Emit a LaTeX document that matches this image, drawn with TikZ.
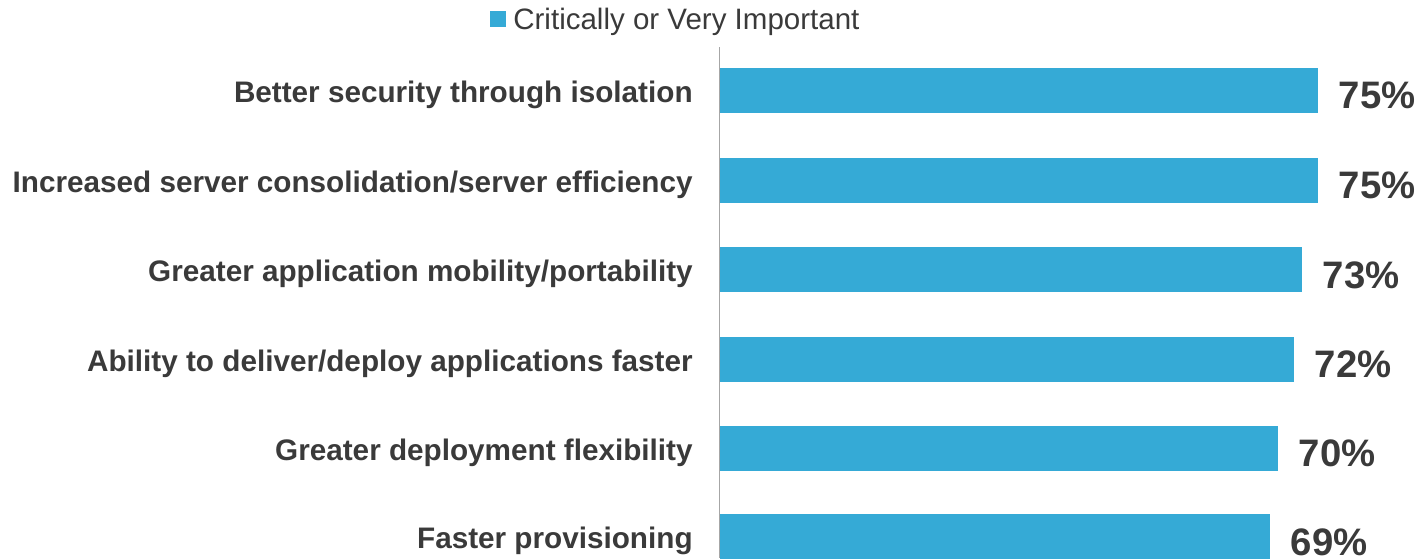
\documentclass[tikz,border=0pt]{standalone}
\usepackage{fontspec}
\setmainfont{Liberation Sans}
\definecolor{barblue}{RGB}{53,170,214}
\definecolor{txtgray}{RGB}{58,58,58}
\definecolor{axisgray}{RGB}{166,166,166}
\begin{document}
\begin{tikzpicture}[x=0.02cm, y=-0.02cm,
		bar/.style={fill=barblue, rectangle, inner sep=0pt, minimum height=0.9cm, anchor=west},
		cat/.style={anchor=base east, inner sep=0pt, text=txtgray, font=\fontsize{16.9}{20}\selectfont\bfseries},
		val/.style={anchor=base west, inner sep=0pt, text=txtgray, font=\fontsize{21.8}{26}\selectfont\bfseries}]
				\useasboundingbox (0,0) rectangle (1422,558);
				\node[fill=barblue, rectangle, inner sep=0pt, minimum size=0.32cm]
				(key) at (498,19) {};
				\node[anchor=base west, inner sep=0pt, text=txtgray, font=\fontsize{16.8}{20}\selectfont]
				(keytext) at (513,29.5) {Critically or Very Important};
				\node[bar, minimum width=11.96cm] (b1) at (720,90.5) {};
				\node[bar, minimum width=11.96cm] (b2) at (720,180) {};
				\node[bar, minimum width=11.64cm] (b3) at (720,269.5) {};
				\node[bar, minimum width=11.48cm] (b4) at (720,359) {};
				\node[bar, minimum width=11.16cm] (b5) at (720,448) {};
				\node[bar, minimum width=11.00cm] (b6) at (720,536.5) {};
				\node[cat] (c1) at (693,102.5) {Better security through isolation};
				\node[cat] (c2) at (693,192) {Increased server consolidation/server efficiency};
				\node[cat] (c3) at (693,281.5) {Greater application mobility/portability};
				\node[cat] (c4) at (693,371) {Ability to deliver/deploy applications faster};
				\node[cat] (c5) at (693,460) {Greater deployment flexibility};
				\node[cat] (c6) at (693,548.5) {Faster provisioning};
				\node[val] (v1) at ([xshift=0.4cm, yshift=-0.37cm]b1.east) {75\%};
				\node[val] (v2) at ([xshift=0.4cm, yshift=-0.37cm]b2.east) {75\%};
				\node[val] (v3) at ([xshift=0.4cm, yshift=-0.37cm]b3.east) {73\%};
				\node[val] (v4) at ([xshift=0.4cm, yshift=-0.37cm]b4.east) {72\%};
				\node[val] (v5) at ([xshift=0.4cm, yshift=-0.37cm]b5.east) {70\%};
				\node[val] (v6) at ([xshift=0.4cm, yshift=-0.37cm]b6.east) {69\%};
				\draw[axisgray, line width=0.8pt] (719.5,47) -- (719.5,558);
			\end{tikzpicture}
\end{document}
